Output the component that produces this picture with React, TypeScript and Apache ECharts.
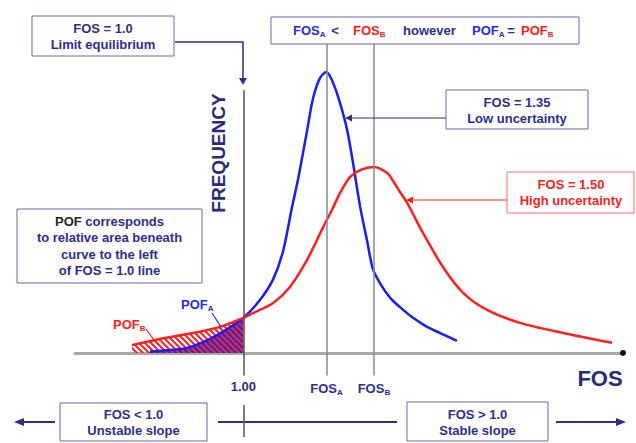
import React, { useEffect, useRef } from "react";
import * as echarts from "echarts";

// Factor of safety (x) and relative frequency (y) of the two distributions
const blueFos = [0.606, 0.636, 0.762, 0.859, 0.931, 1.0, 1.07, 1.125, 1.167, 1.205, 1.23, 1.268, 1.293, 1.323, 1.35, 1.378, 1.407, 1.437, 1.462, 1.492, 1.521, 1.546, 1.576, 1.618, 1.66, 1.715, 1.774, 1.829, 1.9];
const blueFreq = [0.004, 0.007, 0.018, 0.05, 0.085, 0.125, 0.189, 0.262, 0.362, 0.52, 0.617, 0.79, 0.905, 0.979, 1.0, 0.961, 0.89, 0.794, 0.676, 0.52, 0.4, 0.298, 0.248, 0.197, 0.163, 0.125, 0.093, 0.071, 0.043];
const redFos = [0.53, 0.648, 0.787, 0.901, 1.0, 1.04, 1.125, 1.196, 1.268, 1.336, 1.373, 1.407, 1.449, 1.492, 1.55, 1.605, 1.631, 1.66, 1.69, 1.757, 1.841, 1.926, 2.027, 2.166, 2.347, 2.554];
const redFreq = [0.028, 0.05, 0.071, 0.093, 0.125, 0.142, 0.178, 0.235, 0.331, 0.448, 0.509, 0.569, 0.626, 0.651, 0.662, 0.641, 0.612, 0.573, 0.534, 0.427, 0.306, 0.214, 0.153, 0.107, 0.071, 0.036];

const fosLimit = 1.0;
const fosA = 1.35;
const fosB = 1.55;
const axisTickValues = [1.0, 1.35, 1.55];
const axisTickLabels = ["1.00", "{m|FOS}{s|A}", "{m|FOS}{s|B}"];

const X_MIN = 0.29;
const X_MAX = 2.6;
const Y_MIN = -0.082;
const Y_MAX = 1.121;
const SMOOTH = 0.3;

const NAVY = "#2e2e8c";
const BLUE_T = "#2a2ae0";
const RED_T = "#ff2020";
const FONT = '"Liberation Sans", Arial, Helvetica, sans-serif';

function pairs(xs: number[], ys: number[]) {
  return xs.map((x, i) => [x, ys[i]]);
}
function upTo(xs: number[], ys: number[], lim: number) {
  return pairs(xs, ys).filter((p) => p[0] <= lim + 1e-9);
}

function hatchImage(): string {
  const c = document.createElement("canvas");
  c.width = 6;
  c.height = 6;
  const g = c.getContext("2d")!;
  g.strokeStyle = "#ff2424";
  g.lineWidth = 2;
  g.beginPath();
  g.moveTo(-1, -1);
  g.lineTo(7, 7);
  g.moveTo(-1, 5);
  g.lineTo(1, 7);
  g.moveTo(5, -1);
  g.lineTo(7, 1);
  g.stroke();
  return c.toDataURL();
}

function box(x: number, y: number, w: number, h: number, stroke = "#6868a8") {
  return {
    type: "rect",
    z: 100,
    shape: { x, y, width: w, height: h },
    style: { fill: "#ffffff", stroke, lineWidth: 1 },
  };
}

function text(x: number, y: number, t: string, fill = NAVY, extra: any = {}) {
  return {
    type: "text",
    z: 110,
    x,
    y,
    style: {
      text: t,
      fill,
      fontFamily: FONT,
      fontWeight: "bold",
      fontSize: 13,
      lineHeight: 16,
      align: "center",
      verticalAlign: "middle",
      ...extra,
    },
  };
}

function richSub(fill: string) {
  return {
    m: { fill, fontFamily: FONT, fontWeight: "bold", fontSize: 13, lineHeight: 16 },
    s: { fill, fontFamily: FONT, fontWeight: "bold", fontSize: 8, lineHeight: 8, verticalAlign: "bottom" },
  };
}

function subText(x: number, y: number, main: string, sub: string, fill: string, align = "left") {
  return {
    type: "text",
    z: 110,
    x,
    y,
    style: {
      text: `{m|${main}}{s|${sub}}`,
      rich: richSub(fill),
      align,
      verticalAlign: "middle",
    },
  };
}

function line(pts: number[][], stroke: string, lineWidth = 1.5) {
  return {
    type: "polyline",
    z: 105,
    shape: { points: pts },
    style: { stroke, lineWidth, fill: null },
  };
}

function tri(pts: number[][], fill: string) {
  return { type: "polygon", z: 106, shape: { points: pts }, style: { fill } };
}

export default function App() {
  const ref = useRef<HTMLDivElement>(null);
  useEffect(() => {
    if (!ref.current) return;
    const chart = echarts.init(ref.current, undefined, { renderer: "svg" });
    const hatch = hatchImage();

    const graphic: any[] = [
      // FOS = 1.0 box and connector
      box(32, 16, 142, 40),
      text(103, 36, "FOS = 1.0\nLimit equilibrium"),
      line([[175, 42], [243, 42], [243, 80]], NAVY, 1.5),
      tri([[239, 78], [247, 78], [243, 85]], NAVY),

      // top comparison box
      box(271, 17, 308, 27),
      subText(293, 30, "FOS", "A", BLUE_T),
      text(335, 30, "<", NAVY),
      subText(353, 30, "FOS", "B", RED_T),
      text(403, 30, "however", NAVY, { align: "left" }),
      subText(472, 30, "POF", "A", BLUE_T),
      text(511, 30, "=", NAVY),
      subText(521, 30, "POF", "B", RED_T),

      // low uncertainty
      box(446, 90, 142, 39),
      text(517, 110, "FOS = 1.35\nLow uncertainty"),
      line([[446, 118], [350, 118]], NAVY, 1.2),
      tri([[345, 118], [352, 114.5], [352, 121.5]], NAVY),

      // high uncertainty
      box(507, 172, 127, 41, "#ff6a6a"),
      text(571, 192, "FOS = 1.50\nHigh uncertainty", RED_T),
      line([[507, 200], [412, 200]], RED_T, 1.2),
      tri([[406, 200], [413, 196.5], [413, 203.5]], RED_T),

      // POF explanation box
      box(17, 209, 185, 74),
      {
        type: "text",
        z: 110,
        x: 109.5,
        y: 246,
        style: {
          text: "{k|POF} corresponds\nto relative area beneath\ncurve to the left\nof FOS = 1.0 line",
          fill: NAVY,
          fontFamily: FONT,
          fontWeight: "bold",
          fontSize: 13,
          lineHeight: 16.5,
          align: "center",
          verticalAlign: "middle",
          rich: { k: { fill: "#262626", fontFamily: FONT, fontWeight: "bold", fontSize: 13, lineHeight: 16.5 } },
        },
      },

      // POF labels
      subText(113, 324, "POF", "B", RED_T),
      line([[146, 329], [154, 340]], RED_T, 1.2),
      subText(181, 304, "POF", "A", BLUE_T),
      line([[212, 313], [221, 327]], BLUE_T, 1.2),

      // axis titles
      {
        type: "text",
        z: 110,
        x: 218,
        y: 153,
        rotation: Math.PI / 2,
        style: {
          text: "FREQUENCY",
          fill: "#2a2a7a",
          fontFamily: FONT,
          fontWeight: "bold",
          fontSize: 19,
          align: "center",
          verticalAlign: "middle",
        },
      },
      text(600, 378, "FOS", "#2a2a7a", { fontSize: 22 }),

      // bottom stability scale
      line([[22, 422], [55, 422]], NAVY, 2),
      tri([[14, 422], [24, 418], [24, 426]], NAVY),
      box(60, 403, 147, 38),
      text(133.5, 422, "FOS < 1.0\nUnstable slope"),
      line([[218, 422], [397, 422]], NAVY, 2),
      line([[244, 405], [244, 437]], "#555566", 1.5),
      box(407, 402, 141, 39),
      text(477.5, 422, "FOS > 1.0\nStable slope"),
      line([[556, 422], [617, 422]], NAVY, 2),
      tri([[626, 422], [616, 418], [616, 426]], NAVY),
    ];

    chart.setOption({
      animation: false,
      backgroundColor: "#ffffff",
      grid: { left: 75, right: 13, top: 38, bottom: 67 },
      xAxis: {
        type: "value",
        min: X_MIN,
        max: X_MAX,
        splitLine: { show: false },
        axisTick: { show: false },
        axisLine: { show: true, onZero: true, lineStyle: { color: "#a9a9a9", width: 3 } },
        axisLabel: {
          customValues: axisTickValues,
          margin: 4,
          color: NAVY,
          fontFamily: FONT,
          fontWeight: "bold",
          fontSize: 13,
          formatter: (v: number) => {
            const i = axisTickValues.findIndex((t) => Math.abs(t - v) < 1e-6);
            return i >= 0 ? axisTickLabels[i] : "";
          },
          rich: {
            m: { color: NAVY, fontFamily: FONT, fontWeight: "bold", fontSize: 13, lineHeight: 16 },
            s: { color: NAVY, fontFamily: FONT, fontWeight: "bold", fontSize: 8, lineHeight: 8, verticalAlign: "bottom" },
          },
        },
      },
      yAxis: {
        type: "value",
        min: Y_MIN,
        max: Y_MAX,
        show: false,
        splitLine: { show: false },
      },
      series: [
        {
          name: "POF A",
          type: "line",
          data: upTo(blueFos, blueFreq, fosLimit),
          smooth: SMOOTH,
          showSymbol: false,
          lineStyle: { width: 0 },
          areaStyle: { color: "#2a2ad2", opacity: 1 },
          z: 1,
          markLine: {
            silent: true,
            symbol: "none",
            label: { show: false },
            data: [
              [
                { coord: [fosLimit, 0.936], lineStyle: { color: "#555555", width: 1.5, type: "solid" } },
                { coord: [fosLimit, Y_MIN + 0.002] },
              ],
              [
                { coord: [fosA, Y_MAX], lineStyle: { color: "#8a8a8a", width: 1.5, type: "solid" } },
                { coord: [fosA, Y_MIN + 0.002] },
              ],
              [
                { coord: [fosB, 1.114], lineStyle: { color: "#8a8a8a", width: 1.5, type: "solid" } },
                { coord: [fosB, Y_MIN + 0.002] },
              ],
            ],
          },
        },
        {
          name: "POF B",
          type: "line",
          data: upTo(redFos, redFreq, fosLimit),
          smooth: SMOOTH,
          showSymbol: false,
          lineStyle: { width: 0 },
          areaStyle: {
            color: { image: hatch, repeat: "repeat", imageWidth: 6, imageHeight: 6 } as any,
            opacity: 1,
          },
          z: 2,
        },
        {
          name: "FOS = 1.35",
          type: "line",
          data: pairs(blueFos, blueFreq),
          smooth: SMOOTH,
          showSymbol: false,
          lineStyle: { color: "#1c1cf5", width: 2.5 },
          z: 3,
        },
        {
          name: "FOS = 1.50",
          type: "line",
          data: pairs(redFos, redFreq),
          smooth: SMOOTH,
          showSymbol: false,
          lineStyle: { color: "#ff2020", width: 2.5 },
          z: 3,
          markPoint: {
            silent: true,
            symbol: "circle",
            symbolSize: 6,
            label: { show: false },
            itemStyle: { color: "#111111" },
            data: [{ coord: [X_MAX, 0] }],
          },
        },
      ],
      graphic,
    });
    return () => chart.dispose();
  }, []);
  return (
    <div
      ref={ref}
      style={{ position: "absolute", left: 0, top: 0, width: 636, height: 443 }}
    />
  );
}
